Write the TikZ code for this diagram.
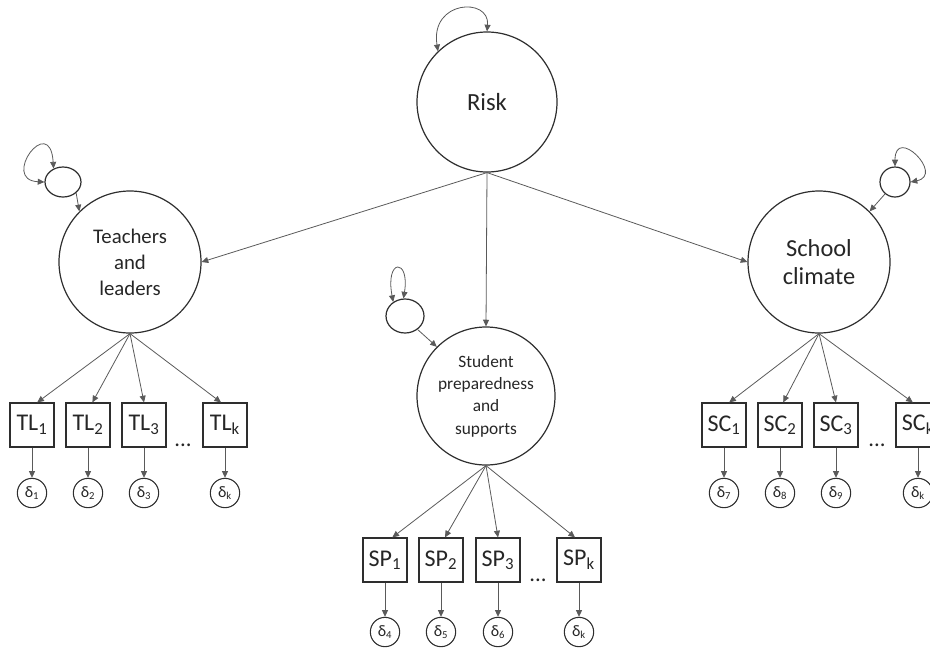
\documentclass[tikz,border=0pt]{standalone}
\usepackage{fontspec}
\setmainfont{Carlito}
\usetikzlibrary{arrows.meta,shapes.geometric}
\definecolor{edgec}{HTML}{2E2E2E}
\definecolor{linec}{HTML}{5A5A5A}
\tikzset{
 lat/.style={circle,draw=edgec,line width=0.9pt,inner sep=0pt,align=center,text=black!85},
 dist/.style={ellipse,draw=edgec,line width=0.9pt,inner sep=0pt},
 obs/.style={rectangle,draw=edgec,line width=0.9pt,minimum size=33pt,inner sep=0pt,text=black!85,font=\fontsize{18}{20}\selectfont},
 err/.style={circle,draw=edgec,line width=0.8pt,minimum size=22pt,inner sep=0pt,text=black!85,font=\fontsize{12}{12}\selectfont},
 dots/.style={anchor=base,text=black!85,font=\fontsize{17}{20}\selectfont},
 tipa/.tip={Triangle[length=5pt,width=4.5pt]},
 arr/.style={draw=linec,line width=0.6pt,-tipa},
 dbl/.style={draw=linec,line width=0.6pt,tipa-tipa},
}
\begin{document}
\begin{tikzpicture}[x=0.75pt,y=-0.75pt]
\useasboundingbox (0,0) rectangle (930,647);
\clip (0,0) rectangle (930,647);
% latent variables
\node[lat,minimum size=105pt,font=\fontsize{18.5}{22}\selectfont] (risk) at (487,102) {Risk};
\node[lat,minimum size=106.5pt,font=\fontsize{15.6}{19.5}\selectfont] (tl) at (130,262) {Teachers\\and\\leaders};
\node[lat,minimum size=106.5pt,font=\fontsize{18.3}{21}\selectfont] (sc) at (819,262) {School\\climate};
\node[lat,minimum size=103.5pt,font=\fontsize{13}{16.8}\selectfont] (sp) at (486,396) {Student\\preparedness\\and\\supports};
% disturbances
\node[dist,minimum width=27pt,minimum height=22.5pt] (tle) at (63,182) {};
\node[dist,minimum width=22.5pt,minimum height=22.5pt] (sce) at (895,182) {};
\node[dist,minimum width=28.5pt,minimum height=25.5pt] (spe) at (405,316) {};
% indicators TL
\node[obs] (tl1) at (32,425) {TL\textsubscript{1}};
\node[obs] (tl2) at (88,425) {TL\textsubscript{2}};
\node[obs] (tl3) at (144,425) {TL\textsubscript{3}};
\node[obs] (tlk) at (225,425) {TL\textsubscript{k}};
\node[dots] (tld) at (183,446) {...};
% indicators SP
\node[obs] (sp1) at (385,560) {SP\textsubscript{1}};
\node[obs] (sp2) at (441,560) {SP\textsubscript{2}};
\node[obs] (sp3) at (498,560) {SP\textsubscript{3}};
\node[obs] (spk) at (579,560) {SP\textsubscript{k}};
\node[dots] (spd) at (538,581) {...};
% indicators SC
\node[obs] (sc1) at (724,425) {SC\textsubscript{1}};
\node[obs] (sc2) at (780,425) {SC\textsubscript{2}};
\node[obs] (sc3) at (836,425) {SC\textsubscript{3}};
\node[obs] (sck) at (918,425) {SC\textsubscript{k}};
\node[dots] (scd) at (877,446) {...};
% errors
\node[err] (d1) at (32,493) {δ\textsubscript{1}};
\node[err] (d2) at (88,493) {δ\textsubscript{2}};
\node[err] (d3) at (144,493) {δ\textsubscript{3}};
\node[err] (dtk) at (225,493) {δ\textsubscript{k}};
\node[err] (d4) at (385,632) {δ\textsubscript{4}};
\node[err] (d5) at (441,632) {δ\textsubscript{5}};
\node[err] (d6) at (498,632) {δ\textsubscript{6}};
\node[err] (dpk) at (579,632) {δ\textsubscript{k}};
\node[err] (d7) at (724,493) {δ\textsubscript{7}};
\node[err] (d8) at (780,493) {δ\textsubscript{8}};
\node[err] (d9) at (836,493) {δ\textsubscript{9}};
\node[err] (dck) at (918,493) {δ\textsubscript{k}};
% structural paths
\draw[arr] (risk.south) -- (tl.east);
\draw[arr] (risk.south) -- (sp.north);
\draw[arr] (risk.south) -- (sc.west);
% disturbance paths
\draw[arr] (tle.-40) -- (tl.135);
\draw[arr] (sce.-130) -- (sc.45);
\draw[arr] (spe.-47) -- (sp.135);
% variances
\draw[dbl] (risk.134) .. controls (430,0) and (490,-3) .. (risk.90);
\draw[dbl] (tle.180) .. controls (0,180) and (50,112) .. (tle.125);
\draw[dbl] (sce.90) .. controls (895,125) and (945,175) .. (sce.0);
\draw[dbl] (spe.130) .. controls (385,258) and (410,258) .. (spe.95);
% loadings
\draw[arr] (tl.south) -- (tl1.77);
\draw[arr] (tl.south) -- (tl2.79);
\draw[arr] (tl.south) -- (tl3.north);
\draw[arr] (tl.south) -- (tlk.100);
\draw[arr] (sp.south) -- (sp1.72);
\draw[arr] (sp.south) -- (sp2.80);
\draw[arr] (sp.south) -- (sp3.north);
\draw[arr] (sp.south) -- (spk.100);
\draw[arr] (sc.south) -- (sc1.77);
\draw[arr] (sc.south) -- (sc2.82);
\draw[arr] (sc.south) -- (sc3.north);
\draw[arr] (sc.south) -- (sck.103);
% errors
\foreach \a/\b in {tl1/d1,tl2/d2,tl3/d3,tlk/dtk,sp1/d4,sp2/d5,sp3/d6,spk/dpk,sc1/d7,sc2/d8,sc3/d9,sck/dck}
  \draw[arr] (\a.south) -- (\b.north);
\end{tikzpicture}
\end{document}
